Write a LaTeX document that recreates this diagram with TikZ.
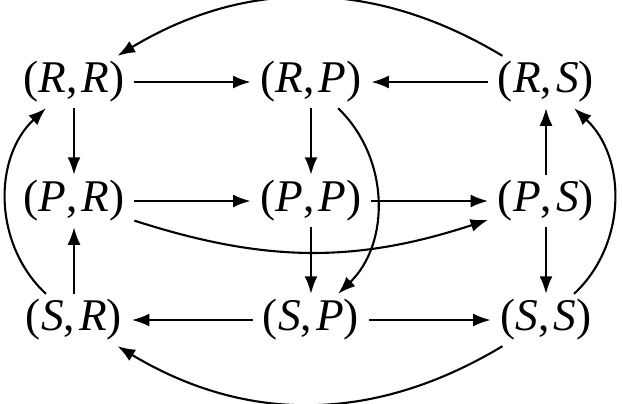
\documentclass[tikz,border=0pt]{standalone}
\usepackage{fontspec}
\setmainfont{Liberation Serif}[ItalicFont=Liberation Serif Italic]
\usetikzlibrary{arrows.meta}
\usetikzlibrary{positioning}

\begin{document}
\begin{tikzpicture}[
    st/.style={inner xsep=1.8pt, inner ysep=0.6pt, outer sep=1pt,
      font=\fontsize{12.9}{16}\selectfont},
    mv/.style={-{Latex[length=5pt, width=3.7pt]}, line width=0.6pt}
  ]
  \path[use as bounding box] (0, 0) rectangle (6.23, 4.03);

  % states (row player, column player)
  \node[st] (RR) at (0.74, 3.21) {(\textit{R},\kern1.2pt\textit{R})};
  \node[st] (RP) at (3.11, 3.21) {(\textit{R},\kern1.2pt\textit{P})};
  \node[st] (RS) at (5.46, 3.21) {(\textit{R},\kern1.2pt\textit{S})};
  \node[st] (PR) at (0.74, 2.02) {(\textit{P},\kern1.2pt\textit{R})};
  \node[st] (PP) at (3.11, 2.02) {(\textit{P},\kern1.2pt\textit{P})};
  \node[st] (PS) at (5.46, 2.02) {(\textit{P},\kern1.2pt\textit{S})};
  \node[st] (SR) at (0.74, 0.83) {(\textit{S},\kern1.2pt\textit{R})};
  \node[st] (SP) at (3.11, 0.83) {(\textit{S},\kern1.2pt\textit{P})};
  \node[st] (SS) at (5.46, 0.83) {(\textit{S},\kern1.2pt\textit{S})};

  % straight moves
  \draw[mv] (RR) -- (RP);
  \draw[mv] (RS) -- (RP);
  \draw[mv] (RR) -- (PR);
  \draw[mv] (RP) -- (PP);
  \draw[mv] (PS) -- (RS);
  \draw[mv] (PR) -- (PP);
  \draw[mv] (PP) -- (PS);
  \draw[mv] (SR) -- (PR);
  \draw[mv] (PP) -- (SP);
  \draw[mv] (PS) -- (SS);
  \draw[mv] (SP) -- (SR);
  \draw[mv] (SP) -- (SS);

  % curved moves
  \draw[mv] (RS) to[bend right=31] (RR);
  \draw[mv] (SS) to[bend left=31] (SR);
  \draw[mv] (SR) to[bend left=47] (RR);
  \draw[mv] (SS) to[bend right=47] (RS);
  \draw[mv] (RP) to[bend left=46] (SP);
  \draw[mv] (PR) to[bend right=18] (PS);
\end{tikzpicture}
\end{document}
